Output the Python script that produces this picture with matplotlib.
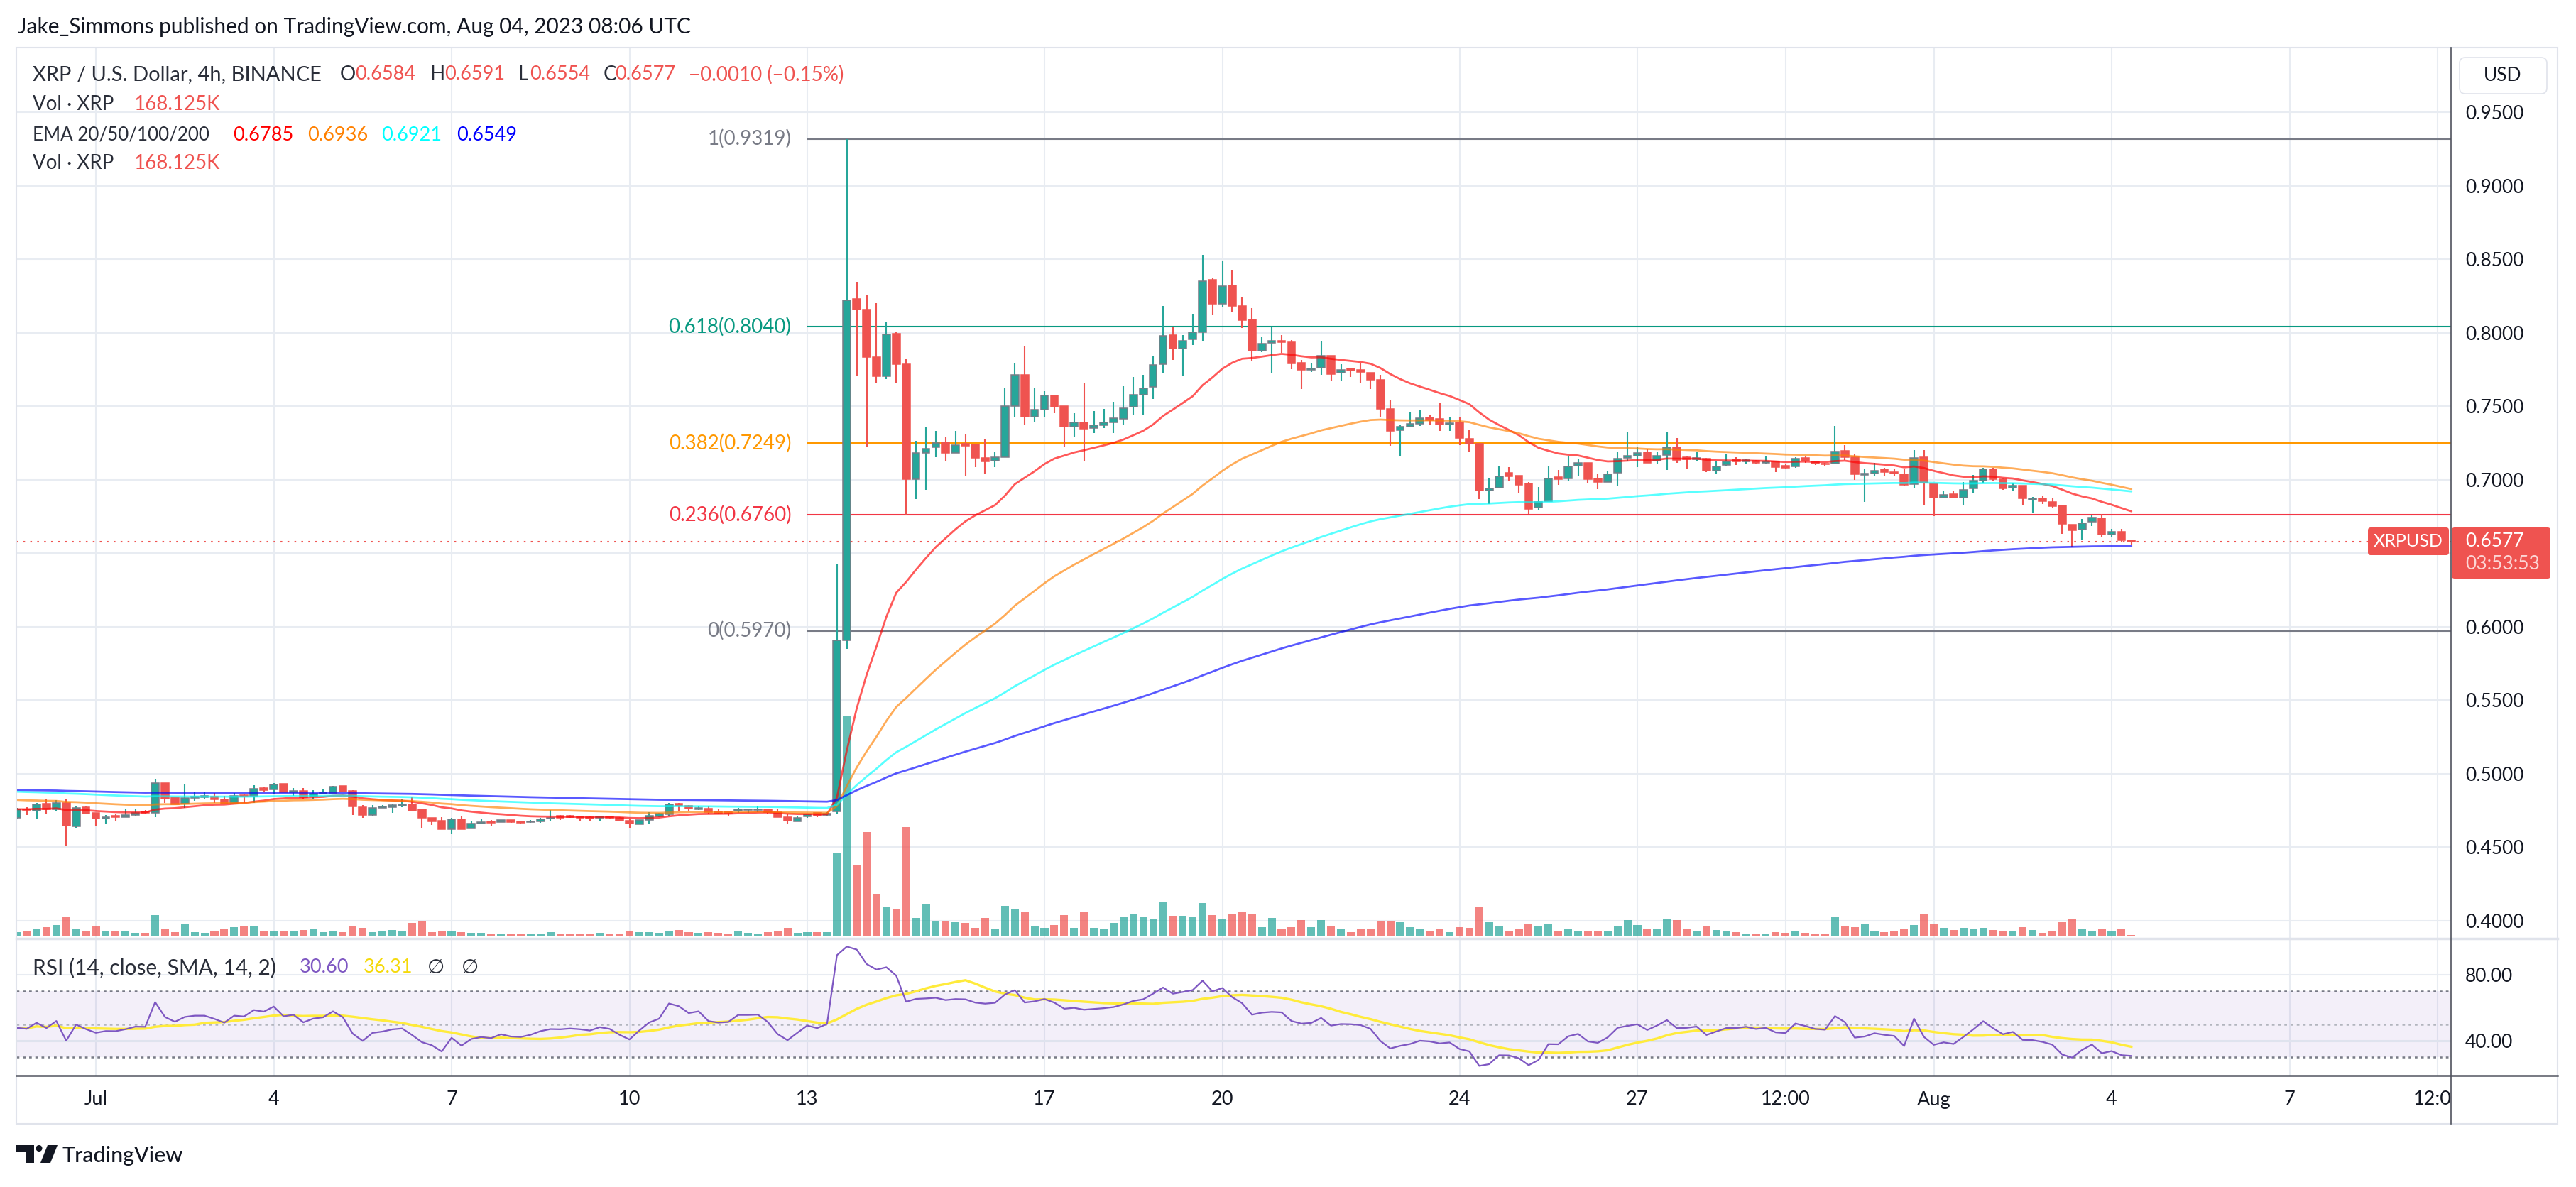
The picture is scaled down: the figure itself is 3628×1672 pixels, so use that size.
import numpy as np
import pandas as pd
import matplotlib
matplotlib.use('Agg')
import matplotlib.pyplot as plt
from matplotlib.patches import Rectangle, FancyBboxPatch, Polygon, Circle

plt.rcParams['font.family'] = ['Lato', 'DejaVu Sans']

# ---- data: XRPUSD 4h candles, Jun 29 16:00 -> Aug 4 08:00 (UTC) ----
opens = [
    0.4697, 0.4758, 0.4749, 0.4797, 0.4758, 0.4802, 0.4641, 0.4771, 0.4734, 0.4694,
    0.4712, 0.4704, 0.4718, 0.4744, 0.4733, 0.4937, 0.4836, 0.4797, 0.4834, 0.4839,
    0.4845, 0.4826, 0.4799, 0.4855, 0.4850, 0.4899, 0.4890, 0.4932, 0.4874, 0.4884,
    0.4842, 0.4863, 0.4868, 0.4918, 0.4884, 0.4771, 0.4718, 0.4767, 0.4771, 0.4779,
    0.4791, 0.4758, 0.4696, 0.4681, 0.4622, 0.4689, 0.4626, 0.4660, 0.4673, 0.4667,
    0.4684, 0.4676, 0.4667, 0.4673, 0.4692, 0.4712, 0.4712, 0.4709, 0.4704, 0.4699,
    0.4709, 0.4700, 0.4681, 0.4657, 0.4686, 0.4710, 0.4721, 0.4797, 0.4781, 0.4757,
    0.4760, 0.4744, 0.4744, 0.4746, 0.4750, 0.4750, 0.4755, 0.4739, 0.4705, 0.4676,
    0.4710, 0.4731, 0.4720, 0.4743, 0.5904, 0.8230, 0.8155, 0.7833, 0.7701, 0.7994,
    0.7783, 0.7001, 0.7183, 0.7219, 0.7254, 0.7183, 0.7244, 0.7240, 0.7147, 0.7129,
    0.7154, 0.7501, 0.7712, 0.7429, 0.7476, 0.7572, 0.7501, 0.7362, 0.7387, 0.7351,
    0.7369, 0.7390, 0.7415, 0.7494, 0.7579, 0.7630, 0.7787, 0.7983, 0.7894, 0.7955,
    0.8005, 0.8362, 0.8198, 0.8323, 0.8180, 0.8090, 0.7876, 0.7930, 0.7945, 0.7936,
    0.7794, 0.7745, 0.7760, 0.7843, 0.7726, 0.7757, 0.7745, 0.7726, 0.7677, 0.7480,
    0.7338, 0.7360, 0.7381, 0.7421, 0.7412, 0.7375, 0.7388, 0.7277, 0.7246, 0.6925,
    0.6944, 0.7046, 0.7027, 0.6975, 0.6811, 0.6852, 0.7015, 0.7006, 0.7095, 0.7116,
    0.7006, 0.6981, 0.7046, 0.7147, 0.7163, 0.7184, 0.7126, 0.7169, 0.7221, 0.7153,
    0.7138, 0.7144, 0.7061, 0.7100, 0.7139, 0.7124, 0.7127, 0.7114, 0.7122, 0.7094,
    0.7092, 0.7147, 0.7122, 0.7110, 0.7110, 0.7197, 0.7152, 0.7030, 0.7042, 0.7070,
    0.7052, 0.7037, 0.6970, 0.7154, 0.6975, 0.6878, 0.6900, 0.6878, 0.6940, 0.6995,
    0.7072, 0.7005, 0.6947, 0.6960, 0.6863, 0.6873, 0.6848, 0.6825, 0.6695, 0.6658,
    0.6713, 0.6735, 0.6628, 0.6645, 0.6584,
]
highs = [
    0.4765, 0.4773, 0.4799, 0.4831, 0.4821, 0.4826, 0.4778, 0.4776, 0.4734, 0.4720,
    0.4721, 0.4758, 0.4754, 0.4750, 0.4963, 0.4937, 0.4836, 0.4932, 0.4873, 0.4870,
    0.4866, 0.4847, 0.4866, 0.4863, 0.4919, 0.4913, 0.4934, 0.4932, 0.4903, 0.4899,
    0.4889, 0.4894, 0.4918, 0.4918, 0.4889, 0.4787, 0.4783, 0.4787, 0.4792, 0.4824,
    0.4845, 0.4758, 0.4700, 0.4705, 0.4696, 0.4710, 0.4676, 0.4694, 0.4684, 0.4684,
    0.4684, 0.4681, 0.4686, 0.4699, 0.4750, 0.4718, 0.4718, 0.4711, 0.4710, 0.4715,
    0.4715, 0.4705, 0.4689, 0.4686, 0.4738, 0.4731, 0.4799, 0.4802, 0.4786, 0.4776,
    0.4776, 0.4762, 0.4744, 0.4768, 0.4762, 0.4776, 0.4760, 0.4757, 0.4728, 0.4713,
    0.4729, 0.4734, 0.4735, 0.6429, 0.9319, 0.8344, 0.8258, 0.8201, 0.8069, 0.8005,
    0.7826, 0.7262, 0.7358, 0.7333, 0.7290, 0.7333, 0.7312, 0.7240, 0.7272, 0.7190,
    0.7626, 0.7790, 0.7905, 0.7619, 0.7601, 0.7572, 0.7501, 0.7451, 0.7655, 0.7465,
    0.7483, 0.7529, 0.7637, 0.7697, 0.7712, 0.7840, 0.8183, 0.8037, 0.7983, 0.8126,
    0.8530, 0.8369, 0.8491, 0.8430, 0.8244, 0.8169, 0.7969, 0.8037, 0.7985, 0.7951,
    0.7816, 0.7791, 0.7939, 0.7843, 0.7785, 0.7760, 0.7797, 0.7726, 0.7714, 0.7545,
    0.7375, 0.7458, 0.7477, 0.7440, 0.7520, 0.7421, 0.7428, 0.7335, 0.7246, 0.7006,
    0.7092, 0.7083, 0.7027, 0.6981, 0.6950, 0.7089, 0.7067, 0.7160, 0.7141, 0.7116,
    0.7043, 0.7061, 0.7184, 0.7320, 0.7224, 0.7212, 0.7190, 0.7326, 0.7283, 0.7160,
    0.7184, 0.7150, 0.7129, 0.7172, 0.7152, 0.7144, 0.7132, 0.7157, 0.7122, 0.7107,
    0.7152, 0.7162, 0.7127, 0.7114, 0.7364, 0.7234, 0.7179, 0.7075, 0.7114, 0.7082,
    0.7072, 0.7077, 0.7202, 0.7202, 0.6975, 0.6922, 0.6922, 0.6982, 0.7032, 0.7082,
    0.7082, 0.7012, 0.6977, 0.6960, 0.6880, 0.6890, 0.6873, 0.6825, 0.6695, 0.6733,
    0.6758, 0.6765, 0.6665, 0.6665, 0.6591,
]
lows = [
    0.4690, 0.4717, 0.4688, 0.4725, 0.4746, 0.4504, 0.4625, 0.4725, 0.4647, 0.4654,
    0.4681, 0.4702, 0.4712, 0.4721, 0.4702, 0.4799, 0.4789, 0.4765, 0.4813, 0.4823,
    0.4799, 0.4791, 0.4799, 0.4802, 0.4799, 0.4871, 0.4863, 0.4871, 0.4850, 0.4823,
    0.4826, 0.4862, 0.4868, 0.4879, 0.4720, 0.4696, 0.4712, 0.4766, 0.4734, 0.4773,
    0.4741, 0.4625, 0.4649, 0.4620, 0.4586, 0.4620, 0.4626, 0.4654, 0.4644, 0.4667,
    0.4663, 0.4654, 0.4663, 0.4663, 0.4678, 0.4686, 0.4696, 0.4681, 0.4681, 0.4673,
    0.4688, 0.4673, 0.4628, 0.4657, 0.4657, 0.4705, 0.4709, 0.4744, 0.4746, 0.4750,
    0.4721, 0.4721, 0.4710, 0.4734, 0.4734, 0.4738, 0.4726, 0.4702, 0.4654, 0.4676,
    0.4699, 0.4704, 0.4712, 0.4725, 0.5850, 0.7708, 0.7226, 0.7655, 0.7683, 0.7662,
    0.6754, 0.6869, 0.6929, 0.7154, 0.7126, 0.7183, 0.7026, 0.7083, 0.7036, 0.7083,
    0.7154, 0.7422, 0.7376, 0.7394, 0.7422, 0.7454, 0.7226, 0.7287, 0.7126, 0.7315,
    0.7351, 0.7315, 0.7376, 0.7440, 0.7440, 0.7547, 0.7726, 0.7815, 0.7708, 0.7915,
    0.7947, 0.8119, 0.8173, 0.8144, 0.8030, 0.7808, 0.7869, 0.7726, 0.7862, 0.7751,
    0.7616, 0.7730, 0.7714, 0.7668, 0.7668, 0.7699, 0.7659, 0.7616, 0.7421, 0.7230,
    0.7160, 0.7360, 0.7363, 0.7369, 0.7329, 0.7329, 0.7237, 0.7190, 0.6867, 0.6833,
    0.6944, 0.6987, 0.6904, 0.6765, 0.6790, 0.6852, 0.6965, 0.6987, 0.7021, 0.6975,
    0.6935, 0.6981, 0.6959, 0.7129, 0.7086, 0.7116, 0.7104, 0.7067, 0.7113, 0.7076,
    0.7129, 0.7052, 0.7036, 0.7090, 0.7097, 0.7102, 0.7104, 0.7110, 0.7052, 0.7077,
    0.7082, 0.7112, 0.7097, 0.7094, 0.7108, 0.7135, 0.7000, 0.6850, 0.7027, 0.7025,
    0.7020, 0.6960, 0.6940, 0.6828, 0.6753, 0.6873, 0.6873, 0.6828, 0.6912, 0.6977,
    0.6995, 0.6932, 0.6920, 0.6828, 0.6770, 0.6833, 0.6811, 0.6633, 0.6546, 0.6590,
    0.6683, 0.6613, 0.6613, 0.6571, 0.6554,
]
closes = [
    0.4757, 0.4750, 0.4789, 0.4754, 0.4800, 0.4644, 0.4767, 0.4726, 0.4692, 0.4705,
    0.4704, 0.4717, 0.4734, 0.4733, 0.4936, 0.4828, 0.4789, 0.4833, 0.4845, 0.4845,
    0.4823, 0.4797, 0.4850, 0.4845, 0.4895, 0.4886, 0.4926, 0.4871, 0.4882, 0.4837,
    0.4862, 0.4870, 0.4910, 0.4879, 0.4775, 0.4717, 0.4765, 0.4773, 0.4786, 0.4791,
    0.4749, 0.4697, 0.4673, 0.4620, 0.4689, 0.4623, 0.4660, 0.4671, 0.4663, 0.4683,
    0.4668, 0.4665, 0.4675, 0.4691, 0.4700, 0.4699, 0.4702, 0.4699, 0.4694, 0.4705,
    0.4699, 0.4678, 0.4660, 0.4686, 0.4712, 0.4725, 0.4789, 0.4781, 0.4760, 0.4767,
    0.4736, 0.4731, 0.4733, 0.4757, 0.4757, 0.4758, 0.4739, 0.4702, 0.4680, 0.4700,
    0.4721, 0.4713, 0.4725, 0.5904, 0.8219, 0.8155, 0.7833, 0.7701, 0.7987, 0.7783,
    0.7001, 0.7183, 0.7212, 0.7251, 0.7183, 0.7236, 0.7229, 0.7147, 0.7122, 0.7154,
    0.7501, 0.7712, 0.7429, 0.7476, 0.7572, 0.7494, 0.7358, 0.7387, 0.7347, 0.7369,
    0.7390, 0.7419, 0.7487, 0.7579, 0.7622, 0.7780, 0.7980, 0.7894, 0.7947, 0.8005,
    0.8351, 0.8198, 0.8319, 0.8180, 0.8083, 0.7876, 0.7926, 0.7944, 0.7936, 0.7791,
    0.7745, 0.7757, 0.7843, 0.7720, 0.7745, 0.7742, 0.7730, 0.7677, 0.7480, 0.7329,
    0.7360, 0.7381, 0.7418, 0.7406, 0.7375, 0.7384, 0.7283, 0.7243, 0.6925, 0.6941,
    0.7024, 0.7021, 0.6965, 0.6802, 0.6848, 0.7006, 0.7003, 0.7089, 0.7116, 0.7003,
    0.6981, 0.7036, 0.7141, 0.7163, 0.7181, 0.7116, 0.7163, 0.7221, 0.7135, 0.7138,
    0.7150, 0.7061, 0.7092, 0.7122, 0.7122, 0.7132, 0.7114, 0.7122, 0.7087, 0.7082,
    0.7144, 0.7127, 0.7107, 0.7102, 0.7189, 0.7152, 0.7035, 0.7042, 0.7062, 0.7050,
    0.7042, 0.6962, 0.7147, 0.6977, 0.6878, 0.6898, 0.6878, 0.6932, 0.6995, 0.7070,
    0.7003, 0.6940, 0.6960, 0.6873, 0.6870, 0.6851, 0.6821, 0.6698, 0.6653, 0.6703,
    0.6740, 0.6628, 0.6643, 0.6587, 0.6577,
]
# volume per candle, in units of 100K XRP
volumes = [
    6, 7, 10, 13.3, 16, 27, 10, 7, 15, 8, 7, 8, 5, 5, 30, 11, 6, 18, 6, 5,
    7, 10, 13, 15, 14, 8, 8, 7, 7, 9, 10, 6, 7, 6, 15, 12, 6, 7, 9, 7,
    19, 21, 6, 7, 8, 6, 5, 5, 4, 4, 3, 3, 3, 4, 6, 3, 3, 3, 3, 5,
    4, 3, 7, 6, 6, 5, 8, 9, 6, 5, 6, 5, 4, 7, 5, 4, 6, 8, 12, 5,
    6, 6, 6, 117.6, 310.7, 99.9, 147.2, 59.9, 40.7, 37.7, 153.8, 25.9, 45.9, 20.7, 20.7, 20,
    19.2, 11.8, 25.9, 9.6, 42.9, 37.7, 34.8, 14.8, 11.8, 16.3, 30.3, 11.8, 34, 11.8, 11.1, 19.2,
    26.6, 31.1, 28.1, 25.1, 48.8, 28.8, 28.8, 26.6, 46.6, 29.6, 23.7, 32.5, 34, 31.8, 12.6, 26, 10,
    12.8, 23, 12.8, 23, 14, 10.8, 5.7, 11.5, 10.8, 21.7, 21, 19.8, 12.8, 10.8, 7, 9.6, 5.7,
    12.8, 12.1, 40.8, 19.8, 15.3, 7, 10.8, 16.6, 14, 18.5, 7.7, 9.6, 7, 7.7, 7, 7, 14, 23,
    15.9, 10.8, 10.8, 23.6, 23, 10.8, 7, 14, 8.9,
    8.3, 5.7, 3.6, 3.6, 3.6, 5.7, 5.2, 6.7, 5.2, 3.6, 2.6, 27.9, 13.9, 13.4, 17.6, 6.7, 6.2,
    6.7, 10.8, 16.5, 32.5, 18.1, 11.9, 8.8, 11.9, 9.8, 11.9, 9.3, 8.3, 6.7, 13.4, 8.8, 4.6,
    6.7, 19.6, 23.8, 10.8, 7.7, 10.8, 7.7, 9.8, 1.68,
]
first_candle_day = -4 / 3          # Jun 29 16:00, days from Jul 1 00:00
ema_lengths = [20, 50, 100, 200]
ema_start = [0.4757, 0.4823, 0.4879, 0.4890]
ema_colors = ['#ff0000', '#ff8000', '#00ffff', '#0000ff']
ema_legend = ['0.6785', '0.6936', '0.6921', '0.6549']
rsi_start_gain, rsi_start_loss = 0.0022, 0.0024
rsi_legend = ['30.60', '36.31']
fib_ratios = ['1', '0.618', '0.382', '0.236', '0']
fib_prices = [0.9319, 0.8040, 0.7249, 0.6760, 0.5970]
fib_colors = ['#787b86', '#089981', '#ff9800', '#f23645', '#787b86']
fib_start_day = 12
last_price = 0.6577
tick_days = [0, 3, 6, 9, 12, 16, 19, 23, 26, 28.5, 31, 34, 37, 39.5]
tick_text = ['Jul', '4', '7', '10', '13', '17', '20', '24', '27', '12:00', 'Aug', '4', '7', '12:00']
price_ticks = np.arange(0.40, 0.951, 0.05)

o = np.array(opens); h = np.array(highs); l = np.array(lows); c = np.array(closes)
v = np.array(volumes)
n = len(c)
t = first_candle_day + np.arange(n) / 6.0
up = c >= o

# indicators
emas = []
for length, seed in zip(ema_lengths, ema_start):
    a = 2.0 / (length + 1)
    e = seed
    out = []
    for val in c:
        e = e + a * (val - e)
        out.append(e)
    emas.append(np.array(out))

delta = np.diff(c, prepend=c[0])
ag, al = rsi_start_gain, rsi_start_loss
rsi = []
for d in delta:
    ag = (ag * 13 + max(d, 0)) / 14
    al = (al * 13 + max(-d, 0)) / 14
    rsi.append(100 - 100 / (1 + ag / al))
rsi = np.array(rsi)
rsi_ma = pd.Series(rsi).rolling(14, min_periods=1).mean().values

# ---- layout (pixels) ----
W, H = 3628, 1672
fig = plt.figure(figsize=(W / 100, H / 100), dpi=100)
fig.patch.set_facecolor('white')

def box(x0, y0, x1, y1):
    return [x0 / W, 1 - y1 / H, (x1 - x0) / W, (y1 - y0) / H]

LEFT, RIGHT, EDGE = 23, 3452, 3602
TOP, MAIN_BOT, RSI_BOT, TIME_BOT = 67, 1322, 1515, 1583
xlim = ((LEFT - 135) / 83.5, (RIGHT - 135) / 83.5)
ylim = (0.3877, 0.9940)
GRID = '#e8ecf2'
TXT = '#131722'
GRAYTXT = '#2a2e39'
RED = '#ef5350'
TEAL = '#26a69a'

def clean(a):
    a.set_xlim(*xlim)
    a.patch.set_alpha(0)
    for s in a.spines.values():
        s.set_visible(False)
    a.set_xticks([])
    a.set_yticks([])

axg = fig.add_axes(box(LEFT, TOP, RIGHT, MAIN_BOT)); clean(axg); axg.set_ylim(*ylim); axg.set_zorder(0)
axv = fig.add_axes(box(LEFT, TOP, RIGHT, MAIN_BOT)); clean(axv); axv.set_ylim(-3, MAIN_BOT - TOP - 3); axv.set_zorder(1)
ax = fig.add_axes(box(LEFT, TOP, RIGHT, MAIN_BOT)); clean(ax); ax.set_ylim(*ylim); ax.set_zorder(2)
axr = fig.add_axes(box(LEFT, MAIN_BOT, RIGHT, RSI_BOT)); clean(axr); axr.set_ylim(18.92, 101.94); axr.set_zorder(2)
axt = fig.add_axes(box(LEFT, RSI_BOT, RIGHT, TIME_BOT)); clean(axt); axt.set_ylim(0, 1)

# grid
for d in tick_days:
    axg.axvline(d, color=GRID, lw=1.5, zorder=0)
    axr.axvline(d, color=GRID, lw=1.5, zorder=0)
for p in price_ticks:
    axg.axhline(p, color=GRID, lw=1.5, zorder=0)

# volume
axv.bar(t, v, width=0.132, color=np.where(up, TEAL, RED), alpha=0.72, linewidth=0)

# fib levels
ax.hlines(fib_prices, fib_start_day, xlim[1], colors=fib_colors, lw=1.5, zorder=1.5)
for r, p, col in zip(fib_ratios, fib_prices, fib_colors):
    ax.text(fib_start_day - 0.27, p, f'{r}({p:.4f})', color=col, fontsize=20,
            ha='right', va='center', zorder=5)

# candles
wick_col = np.where(up, TEAL, RED)
ax.vlines(t, l, h, colors=wick_col, lw=1.5, zorder=2)
body_lo = np.minimum(o, c)
body_h = np.maximum(np.abs(c - o), 0.0008)
ax.bar(t, body_h, bottom=body_lo, width=0.128, color=np.where(up, TEAL, RED),
       edgecolor=np.where(up, '#787b86', RED), linewidth=1.1, zorder=3)

# EMAs
for e, col in zip(emas, ema_colors):
    ax.plot(t, e, color=col, alpha=0.65, lw=2.0, zorder=4, solid_capstyle='round')

# last price line
ax.axhline(last_price, color=RED, lw=1.5, ls=(0, (1.2, 3.5)), zorder=1.6)

# price axis labels (the 0.6500 label sits under the last-price tag)
ax.set_yticks(price_ticks)
ax.set_yticklabels(['' if abs(p - 0.65) < 1e-6 else f'{p:.4f}' for p in price_ticks])
ax.yaxis.tick_right()
ax.tick_params(axis='y', length=0, pad=14.4, labelsize=19, labelcolor=TXT)

# RSI pane
axr.axhspan(30, 70, color='#7e57c2', alpha=0.09, lw=0, zorder=0)
axr.axhline(80, color=GRID, lw=1.5, zorder=0)
axr.axhline(40, color='#dfe3ee', lw=2.2, zorder=0)
axr.axhline(70, color='#787b86', lw=1.8, ls=(0, (1.5, 2)), zorder=1)
axr.axhline(30, color='#787b86', lw=1.8, ls=(0, (1.5, 2)), zorder=1)
axr.axhline(50, color='#b2b5be', lw=1.8, ls=(0, (1.5, 2)), zorder=1)
axr.plot(t, rsi, color='#7e57c2', lw=1.6, zorder=3)
axr.plot(t, rsi_ma, color='#ffeb3b', lw=2.4, zorder=2)
axr.set_yticks([80, 40])
axr.set_yticklabels(['80.00', '40.00'])
axr.yaxis.tick_right()
axr.tick_params(axis='y', length=0, pad=14.4, labelsize=19, labelcolor=TXT)

# time axis
for d, s in zip(tick_days, tick_text):
    axt.text(d, 0.5, s, ha='center', va='center', fontsize=19.5, color=TXT, clip_on=True)

# ---- overlay in pixel coordinates ----
axo = fig.add_axes([0, 0, 1, 1])
axo.set_xlim(0, W); axo.set_ylim(H, 0); axo.axis('off'); axo.set_zorder(10)
axo.patch.set_alpha(0)

axo.add_patch(Rectangle((LEFT, TOP), EDGE - LEFT, TIME_BOT - TOP, fill=False, ec='#e0e3eb', lw=1.5))
axo.plot([LEFT, EDGE], [MAIN_BOT, MAIN_BOT], color='#e0e3eb', lw=2.5)
axo.plot([LEFT, EDGE], [RSI_BOT, RSI_BOT], color='#50535e', lw=1.8)
axo.plot([RIGHT, RIGHT], [TOP, TIME_BOT], color='#50535e', lw=1.2)

# header
axo.text(25, 38, 'Jake_Simmons published on TradingView.com, Aug 04, 2023 08:06 UTC',
         fontsize=21.5, color=TXT, va='center')

def pieces(y, items):
    for x, s, col, size in items:
        axo.text(x, y, s, fontsize=size, color=col, va='center')

chg = c[-1] - c[-2]
pieces(105, [(46, 'XRP / U.S. Dollar, 4h, BINANCE', GRAYTXT, 21),
             (479, 'O', GRAYTXT, 20), (500, f'{o[-1]:.4f}', RED, 19.5),
             (605, 'H', GRAYTXT, 20), (626, f'{h[-1]:.4f}', RED, 19.5),
             (730, 'L', GRAYTXT, 20), (746, f'{l[-1]:.4f}', RED, 19.5),
             (850, 'C', GRAYTXT, 20), (866, f'{c[-1]:.4f}', RED, 19.5),
             (970, f'{chg:.4f} ({chg / c[-2] * 100:.2f}%)'.replace('-', '\u2212'), RED, 20)])
pieces(147, [(46, 'Vol · XRP', GRAYTXT, 20), (189, '168.125K', RED, 20)])
pieces(190, [(46, 'EMA 20/50/100/200', GRAYTXT, 18.7)] +
       [(x, s, col, 19.5) for x, s, col in zip([328, 433, 537, 643], ema_legend, ema_colors)])
pieces(230, [(46, 'Vol · XRP', GRAYTXT, 20), (189, '168.125K', RED, 20)])
pieces(1363, [(46, 'RSI (14, close, SMA, 14, 2)', GRAYTXT, 21.5), (422, rsi_legend[0], '#7e57c2', 19.5),
              (512, rsi_legend[1], '#f5d90a', 19.5), (602, '\u2205', GRAYTXT, 20),
              (650, '\u2205', GRAYTXT, 20)])

# USD box
axo.add_patch(FancyBboxPatch((3464, 81), 123, 51, boxstyle='round,pad=0,rounding_size=8',
                             fc='white', ec='#e0e3eb', lw=1.2))
axo.text(3525, 107, 'USD', fontsize=19, color=TXT, ha='center', va='center')

# last price labels
axo.add_patch(FancyBboxPatch((3335, 743), 114, 39, boxstyle='round,pad=0,rounding_size=4',
                             fc=RED, ec='none'))
axo.text(3392, 763, 'XRPUSD', fontsize=18, color='white', ha='center', va='center')
axo.add_patch(FancyBboxPatch((3453, 743), 139, 72, boxstyle='round,pad=0,rounding_size=4',
                             fc=RED, ec='none'))
axo.text(3472, 763, f'{last_price:.4f}', fontsize=19, color='white', va='center')
axo.text(3472, 795, '03:53:53', fontsize=19, color='#fcd5d4', va='center')

# TradingView logo
axo.add_patch(Polygon([(23, 1613), (48, 1613), (48, 1638), (36, 1638), (36, 1622), (23, 1622)],
                      closed=True, fc=TXT, ec='none'))
axo.add_patch(Circle((55, 1617.5), 4.5, fc=TXT, ec='none'))
axo.add_patch(Polygon([(67, 1613), (81, 1613), (71, 1638), (57, 1638)], closed=True, fc=TXT, ec='none'))
axo.text(88, 1628, 'TradingView', fontsize=22, color=TXT, va='center', fontweight='medium')

fig.savefig('out.png', dpi=100, facecolor='white')
